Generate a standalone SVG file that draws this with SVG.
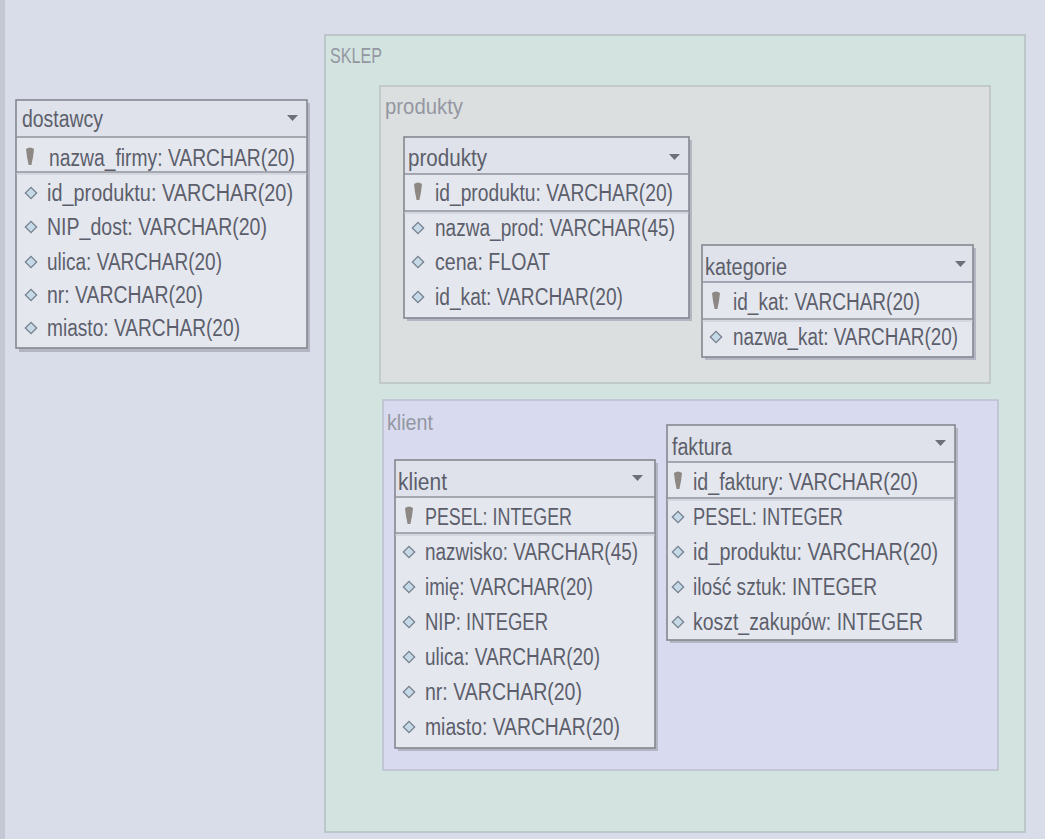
<svg xmlns="http://www.w3.org/2000/svg" width="1045" height="839" viewBox="0 0 1045 839">
<style>
.t{font-family:"Liberation Sans",Arial,sans-serif;font-size:23.5px;fill:#5c5f6b}
.fl{font-family:"Liberation Sans",Arial,sans-serif;font-size:22px;fill:#9497a2}
.tbl{fill:#e5e7ef;stroke:#85878f;stroke-width:1.6}
.shadow{fill:#b4b7c3}
.sep{stroke:#8f929c;stroke-width:1.4}
.hdr{fill:#dfe2ea}
.tri{fill:#6d707a}
.dia{fill:#c6d9e6;stroke:#76818f;stroke-width:1.3}
.key{fill:#8d8883}
</style>
<defs>
<g id="keyi"><path class="key" d="M-4,-8 Q0,-11 4,-8 L3,0 L1.4,8 L-1.4,8 L-3,0 Z"/></g>
<g id="diai"><rect class="dia" x="-4" y="-4" width="8" height="8" transform="rotate(45)"/></g>
</defs>
<rect x="0" y="0" width="1045" height="839" fill="#d9dde9"/>
<rect x="0" y="0" width="5" height="839" fill="#c4c8d2"/>
<g id="frame-sklep">
<rect x="325" y="35" width="700" height="797" fill="#d3e3e0" stroke="#b4bec0" stroke-width="1.5"/>
<text class="fl" x="330" y="63" textLength="52" lengthAdjust="spacingAndGlyphs">SKLEP</text>
</g>
<g id="frame-produkty">
<rect x="380" y="86" width="610" height="297" fill="#dcdfdf" stroke="#bcc2c4" stroke-width="1.5"/>
<text class="fl" x="385" y="114" textLength="78" lengthAdjust="spacingAndGlyphs">produkty</text>
</g>
<g id="frame-klient">
<rect x="383" y="400" width="615" height="370" fill="#d8dbef" stroke="#bcc0cc" stroke-width="1.5"/>
<text class="fl" x="387" y="430" textLength="46" lengthAdjust="spacingAndGlyphs">klient</text>
</g>
<g id="connectors"></g>
<g id="dostawcy">
<rect class="shadow" x="19" y="103" width="291" height="249"/>
<rect class="tbl" x="16" y="100" width="291" height="248"/>
<rect class="hdr" x="17" y="101" width="289" height="36"/>
<line class="sep" x1="16" y1="137" x2="307" y2="137"/>
<line class="sep" x1="16" y1="172" x2="307" y2="172"/>
<line stroke="#c4c7d0" x1="16" y1="174" x2="307" y2="174"/>
<path class="tri" d="M287,115 L298,115 L292.5,121 Z"/>
<text class="t" x="22" y="127" textLength="81" lengthAdjust="spacingAndGlyphs">dostawcy</text>
<use href="#keyi" x="30" y="157"/>
<text class="t" x="49" y="166" textLength="246" lengthAdjust="spacingAndGlyphs">nazwa_firmy: VARCHAR(20)</text>
<use href="#diai" x="31" y="193"/>
<text class="t" x="47" y="201" textLength="246" lengthAdjust="spacingAndGlyphs">id_produktu: VARCHAR(20)</text>
<use href="#diai" x="31" y="227"/>
<text class="t" x="47" y="235" textLength="220" lengthAdjust="spacingAndGlyphs">NIP_dost: VARCHAR(20)</text>
<use href="#diai" x="31" y="262"/>
<text class="t" x="47" y="270" textLength="175" lengthAdjust="spacingAndGlyphs">ulica: VARCHAR(20)</text>
<use href="#diai" x="31" y="295"/>
<text class="t" x="47" y="303" textLength="156" lengthAdjust="spacingAndGlyphs">nr: VARCHAR(20)</text>
<use href="#diai" x="31" y="328"/>
<text class="t" x="47" y="336" textLength="193" lengthAdjust="spacingAndGlyphs">miasto: VARCHAR(20)</text>
</g>
<g id="produkty">
<rect class="shadow" x="407" y="140" width="285" height="181"/>
<rect class="tbl" x="404" y="137" width="285" height="181"/>
<rect class="hdr" x="405" y="138" width="283" height="36"/>
<line class="sep" x1="404" y1="174" x2="689" y2="174"/>
<line class="sep" x1="404" y1="211" x2="689" y2="211"/>
<line stroke="#c4c7d0" x1="404" y1="213" x2="689" y2="213"/>
<path class="tri" d="M669,154 L680,154 L674.5,160 Z"/>
<text class="t" x="408" y="166" textLength="79" lengthAdjust="spacingAndGlyphs">produkty</text>
<use href="#keyi" x="418" y="192"/>
<text class="t" x="435" y="201" textLength="238" lengthAdjust="spacingAndGlyphs">id_produktu: VARCHAR(20)</text>
<use href="#diai" x="418" y="228"/>
<text class="t" x="435" y="236" textLength="240" lengthAdjust="spacingAndGlyphs">nazwa_prod: VARCHAR(45)</text>
<use href="#diai" x="418" y="262"/>
<text class="t" x="435" y="270" textLength="115" lengthAdjust="spacingAndGlyphs">cena: FLOAT</text>
<use href="#diai" x="418" y="297"/>
<text class="t" x="435" y="305" textLength="188" lengthAdjust="spacingAndGlyphs">id_kat: VARCHAR(20)</text>
</g>
<g id="kategorie">
<rect class="shadow" x="705" y="248" width="271" height="112"/>
<rect class="tbl" x="702" y="245" width="271" height="112"/>
<rect class="hdr" x="703" y="246" width="269" height="36"/>
<line class="sep" x1="702" y1="282" x2="973" y2="282"/>
<line class="sep" x1="702" y1="319" x2="973" y2="319"/>
<line stroke="#c4c7d0" x1="702" y1="321" x2="973" y2="321"/>
<path class="tri" d="M955,261 L966,261 L960.5,267 Z"/>
<text class="t" x="705" y="275" textLength="82" lengthAdjust="spacingAndGlyphs">kategorie</text>
<use href="#keyi" x="716" y="301"/>
<text class="t" x="733" y="310" textLength="187" lengthAdjust="spacingAndGlyphs">id_kat: VARCHAR(20)</text>
<use href="#diai" x="716" y="337"/>
<text class="t" x="733" y="345" textLength="225" lengthAdjust="spacingAndGlyphs">nazwa_kat: VARCHAR(20)</text>
</g>
<g id="klient">
<rect class="shadow" x="398" y="463" width="260" height="288"/>
<rect class="tbl" x="395" y="460" width="260" height="288"/>
<rect class="hdr" x="396" y="461" width="258" height="36"/>
<line class="sep" x1="395" y1="497" x2="655" y2="497"/>
<line class="sep" x1="395" y1="533" x2="655" y2="533"/>
<line stroke="#c4c7d0" x1="395" y1="535" x2="655" y2="535"/>
<path class="tri" d="M632,475 L643,475 L637.5,481 Z"/>
<text class="t" x="398" y="490" textLength="49" lengthAdjust="spacingAndGlyphs">klient</text>
<use href="#keyi" x="409" y="516"/>
<text class="t" x="425" y="525" textLength="147" lengthAdjust="spacingAndGlyphs">PESEL: INTEGER</text>
<use href="#diai" x="409" y="552"/>
<text class="t" x="425" y="560" textLength="213" lengthAdjust="spacingAndGlyphs">nazwisko: VARCHAR(45)</text>
<use href="#diai" x="409" y="587"/>
<text class="t" x="425" y="595" textLength="168" lengthAdjust="spacingAndGlyphs">imię: VARCHAR(20)</text>
<use href="#diai" x="409" y="622"/>
<text class="t" x="425" y="630" textLength="123" lengthAdjust="spacingAndGlyphs">NIP: INTEGER</text>
<use href="#diai" x="409" y="657"/>
<text class="t" x="425" y="665" textLength="175" lengthAdjust="spacingAndGlyphs">ulica: VARCHAR(20)</text>
<use href="#diai" x="409" y="692"/>
<text class="t" x="425" y="700" textLength="157" lengthAdjust="spacingAndGlyphs">nr: VARCHAR(20)</text>
<use href="#diai" x="409" y="727"/>
<text class="t" x="425" y="735" textLength="195" lengthAdjust="spacingAndGlyphs">miasto: VARCHAR(20)</text>
</g>
<g id="faktura">
<rect class="shadow" x="670" y="428" width="288" height="215"/>
<rect class="tbl" x="667" y="425" width="288" height="215"/>
<rect class="hdr" x="668" y="426" width="286" height="36"/>
<line class="sep" x1="667" y1="462" x2="955" y2="462"/>
<line class="sep" x1="667" y1="498" x2="955" y2="498"/>
<line stroke="#c4c7d0" x1="667" y1="500" x2="955" y2="500"/>
<path class="tri" d="M935,440 L946,440 L940.5,446 Z"/>
<text class="t" x="672" y="455" textLength="60" lengthAdjust="spacingAndGlyphs">faktura</text>
<use href="#keyi" x="678" y="481"/>
<text class="t" x="693" y="490" textLength="225" lengthAdjust="spacingAndGlyphs">id_faktury: VARCHAR(20)</text>
<use href="#diai" x="678" y="517"/>
<text class="t" x="693" y="525" textLength="150" lengthAdjust="spacingAndGlyphs">PESEL: INTEGER</text>
<use href="#diai" x="678" y="552"/>
<text class="t" x="693" y="560" textLength="245" lengthAdjust="spacingAndGlyphs">id_produktu: VARCHAR(20)</text>
<use href="#diai" x="678" y="587"/>
<text class="t" x="693" y="595" textLength="184" lengthAdjust="spacingAndGlyphs">ilość sztuk: INTEGER</text>
<use href="#diai" x="678" y="622"/>
<text class="t" x="693" y="630" textLength="230" lengthAdjust="spacingAndGlyphs">koszt_zakupów: INTEGER</text>
</g>
</svg>
